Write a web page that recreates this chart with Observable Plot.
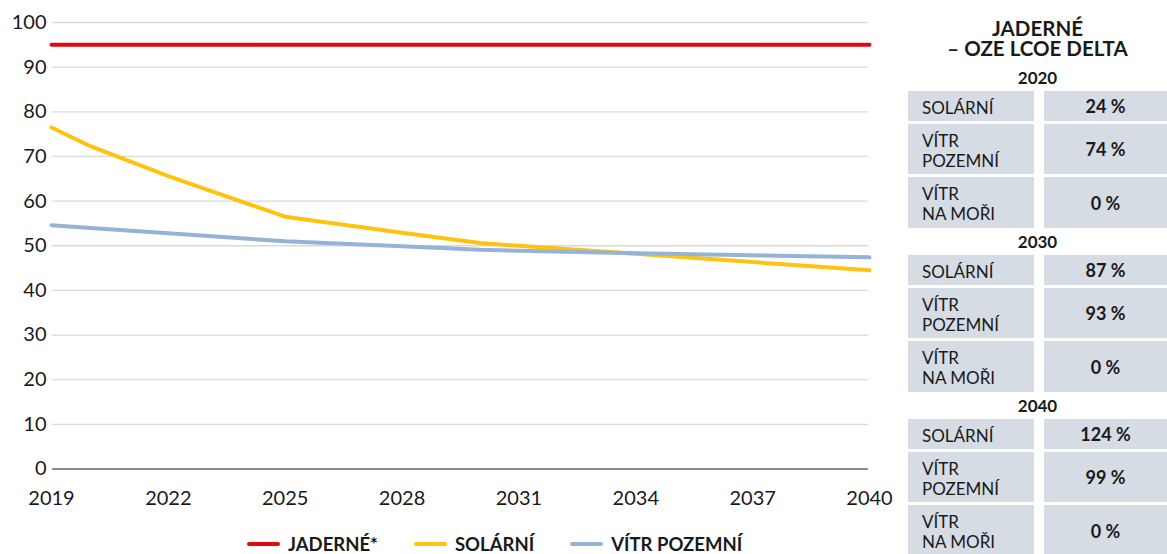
<!DOCTYPE html>
<html>
<head>
<meta charset="utf-8">
<script src="https://cdn.jsdelivr.net/npm/d3@7"></script>
<script src="https://cdn.jsdelivr.net/npm/@observablehq/plot@0.6"></script>
<style>
  html, body { margin: 0; padding: 0; background: #fff; }
  body { font-family: Lato, "Noto Sans", sans-serif; color: #1a1a1a; }
  #wrap { position: relative; width: 1167px; height: 554px; overflow: hidden; }
  #chart { position: absolute; left: 0; top: 0; }
  #legend { position: absolute; left: 247px; top: 532px; height: 24px; display: flex; align-items: center;
            font-weight: 700; font-size: 18.5px; white-space: nowrap; }
  .lg-item { display: flex; align-items: center; margin-right: 36px; }
  .lg-sw { width: 33px; height: 4px; border-radius: 2px; margin-right: 8px; }
  #table { position: absolute; left: 908px; top: 0; width: 259px; }
  .t-title { height: 64px; box-sizing: border-box; padding-top: 18px; text-align: center; font-weight: 700;
             font-size: 20.5px; line-height: 20px; }
  .t-year { height: 27px; text-align: center; font-weight: 700; font-size: 17px; line-height: 27px; }
  .t-row { display: flex; margin-bottom: 3px; }
  .t-lab { width: 126px; background: #d6dce4; box-sizing: border-box; padding-left: 14px; font-size: 17px;
           line-height: 20px; display: flex; flex-direction: column; justify-content: center; padding-top: 3px; }
  .t-val { width: 123px; margin-left: 10px; background: #d6dce4; font-size: 18px; font-weight: 700;
           display: flex; align-items: center; justify-content: center; }
</style>
</head>
<body>
<div id="wrap">
  <div id="chart"></div>
  <div id="legend"></div>
  <div id="table"></div>
</div>
<script>
// ---- chart data ----
const years = [2019, 2020, 2022, 2025, 2028, 2030, 2034, 2040];
const jaderne = [95, 95, 95, 95, 95, 95, 95, 95];
const solarni = [76.5, 72.3, 65.6, 56.5, 52.9, 50.6, 48.2, 44.5];
const vitrPozemni = [54.6, 54.0, 52.8, 51.0, 49.9, 49.1, 48.3, 47.4];
const seriesNames = ["JADERNÉ*", "SOLÁRNÍ", "VÍTR POZEMNÍ"];
const seriesColors = ["#e30613", "#ffc20e", "#95b3d7"];
const xTicks = [2019, 2022, 2025, 2028, 2031, 2034, 2037, 2040];
const yTicks = [0, 10, 20, 30, 40, 50, 60, 70, 80, 90, 100];

// ---- table data ----
const tableTitle = ["JADERNÉ", "– OZE LCOE DELTA"];
const tableYears = ["2020", "2030", "2040"];
const tableRowLabels = [["SOLÁRNÍ"], ["VÍTR", "POZEMNÍ"], ["VÍTR", "NA MOŘI"]];
const deltaSolarni = [24, 87, 124];
const deltaVitrPozemni = [74, 93, 99];
const deltaVitrNaMori = [0, 0, 0];

const seriesValues = [jaderne, solarni, vitrPozemni];
const data = [];
seriesNames.forEach((name, i) => {
  years.forEach((yr, j) => data.push({series: name, year: yr, value: seriesValues[i][j]}));
});

const chart = Plot.plot({
  width: 900,
  height: 520,
  marginLeft: 51,
  marginRight: 31,
  marginTop: 22,
  marginBottom: 51.5,
  style: {fontFamily: "Lato, sans-serif", fontSize: "20px", color: "#1a1a1a", background: "transparent"},
  x: {domain: [2019, 2040], ticks: xTicks, tickFormat: d => String(d), tickSize: 0, tickPadding: 22, label: null},
  y: {domain: [0, 100], ticks: yTicks, tickSize: 0, tickPadding: 5, label: null},
  color: {domain: seriesNames, range: seriesColors},
  marks: [
    Plot.ruleY(yTicks.filter(d => d > 0), {x1: 2019.03, x2: 2039.97, stroke: "#d9d9d9", strokeWidth: 1.3}),
    Plot.ruleY([0], {x1: 2019.03, x2: 2039.97, stroke: "#1a1a1a", strokeWidth: 1}),
    Plot.line(data, {x: "year", y: "value", z: "series", stroke: "series", strokeWidth: 4,
                     strokeLinejoin: "round", curve: "linear"})
  ]
});
document.getElementById("chart").appendChild(chart);

// legend
const lg = document.getElementById("legend");
seriesNames.forEach((name, i) => {
  const item = document.createElement("div");
  item.className = "lg-item";
  const sw = document.createElement("div");
  sw.className = "lg-sw";
  sw.style.background = seriesColors[i];
  const tx = document.createElement("span");
  tx.textContent = name;
  item.appendChild(sw); item.appendChild(tx);
  lg.appendChild(item);
});

// table
const tb = document.getElementById("table");
const title = document.createElement("div");
title.className = "t-title";
title.innerHTML = tableTitle.map(s => `<div>${s}</div>`).join("");
tb.appendChild(title);
const deltas = [deltaSolarni, deltaVitrPozemni, deltaVitrNaMori];
const rowHeights = [30, 50, 51];
tableYears.forEach((yr, yi) => {
  const y = document.createElement("div");
  y.className = "t-year";
  y.textContent = yr;
  tb.appendChild(y);
  tableRowLabels.forEach((lab, ri) => {
    const row = document.createElement("div");
    row.className = "t-row";
    row.style.height = rowHeights[ri] + "px";
    if (ri === tableRowLabels.length - 1) row.style.marginBottom = "0px";
    const l = document.createElement("div");
    l.className = "t-lab";
    l.innerHTML = lab.map(s => `<div>${s}</div>`).join("");
    const v = document.createElement("div");
    v.className = "t-val";
    v.textContent = deltas[ri][yi] + " %";
    row.appendChild(l); row.appendChild(v);
    tb.appendChild(row);
  });
});
</script>
</body>
</html>
